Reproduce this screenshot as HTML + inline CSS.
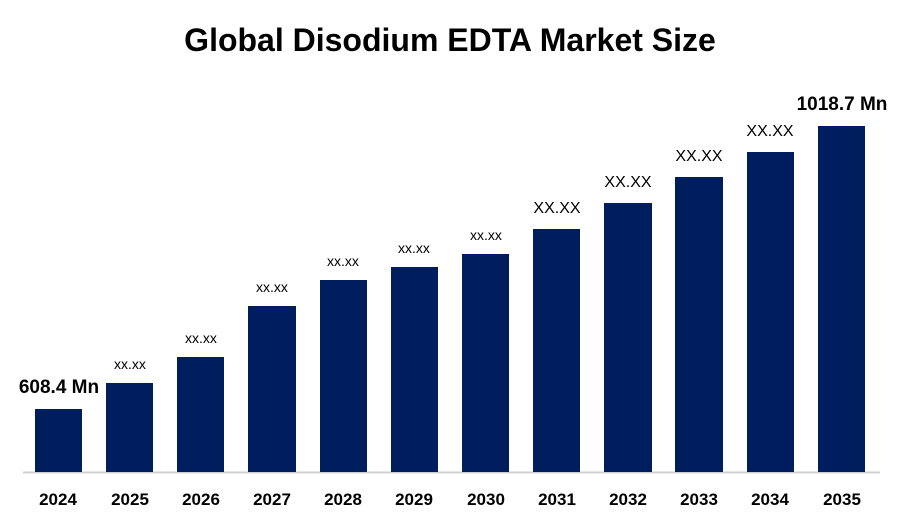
<!DOCTYPE html>
<html><head><style>
body{margin:0;background:#fff;}
svg text{font-family:"Liberation Sans",sans-serif;}
</style></head><body>
<svg width="900" height="525" xmlns="http://www.w3.org/2000/svg">
<text x="450" y="51" text-anchor="middle" font-size="32" font-weight="bold" fill="#000">Global Disodium EDTA Market Size</text>
<line x1="23" y1="472.5" x2="880" y2="472.5" stroke="#d0d0d0" stroke-width="2"/>
<g fill="#001e5e">
<rect x="35" y="409" width="47" height="63"/>
<rect x="106" y="383" width="47" height="89"/>
<rect x="177" y="357" width="47" height="115"/>
<rect x="248" y="306" width="48" height="166"/>
<rect x="320" y="280" width="47" height="192"/>
<rect x="391" y="267" width="47" height="205"/>
<rect x="462" y="254" width="47" height="218"/>
<rect x="533" y="229" width="47" height="243"/>
<rect x="604" y="203" width="48" height="269"/>
<rect x="675" y="177" width="48" height="295"/>
<rect x="747" y="152" width="47" height="320"/>
<rect x="818" y="126" width="47" height="346"/>
</g>
<g font-size="17" font-weight="bold" text-anchor="middle" fill="#000">
<text x="58" y="505">2024</text><text x="130" y="505">2025</text><text x="201" y="505">2026</text>
<text x="272" y="505">2027</text><text x="343" y="505">2028</text><text x="414" y="505">2029</text>
<text x="486" y="505">2030</text><text x="557" y="505">2031</text><text x="628" y="505">2032</text>
<text x="699" y="505">2033</text><text x="770" y="505">2034</text><text x="842" y="505">2035</text>
</g>
<g font-size="14" text-anchor="middle" fill="#000">
<text x="130" y="369">xx.xx</text><text x="201" y="343">xx.xx</text><text x="272" y="292">xx.xx</text>
<text x="343" y="266">xx.xx</text><text x="414" y="253">xx.xx</text><text x="486" y="240">xx.xx</text>
</g>
<g font-size="16" text-anchor="middle" fill="#000">
<text x="557" y="213">XX.XX</text><text x="628" y="187">XX.XX</text><text x="699" y="161">XX.XX</text><text x="770" y="136">XX.XX</text>
</g>
<text x="59" y="393" font-size="19" font-weight="bold" text-anchor="middle">608.4 Mn</text>
<text x="842" y="110" font-size="19" font-weight="bold" text-anchor="middle">1018.7 Mn</text>
</svg>
</body></html>
